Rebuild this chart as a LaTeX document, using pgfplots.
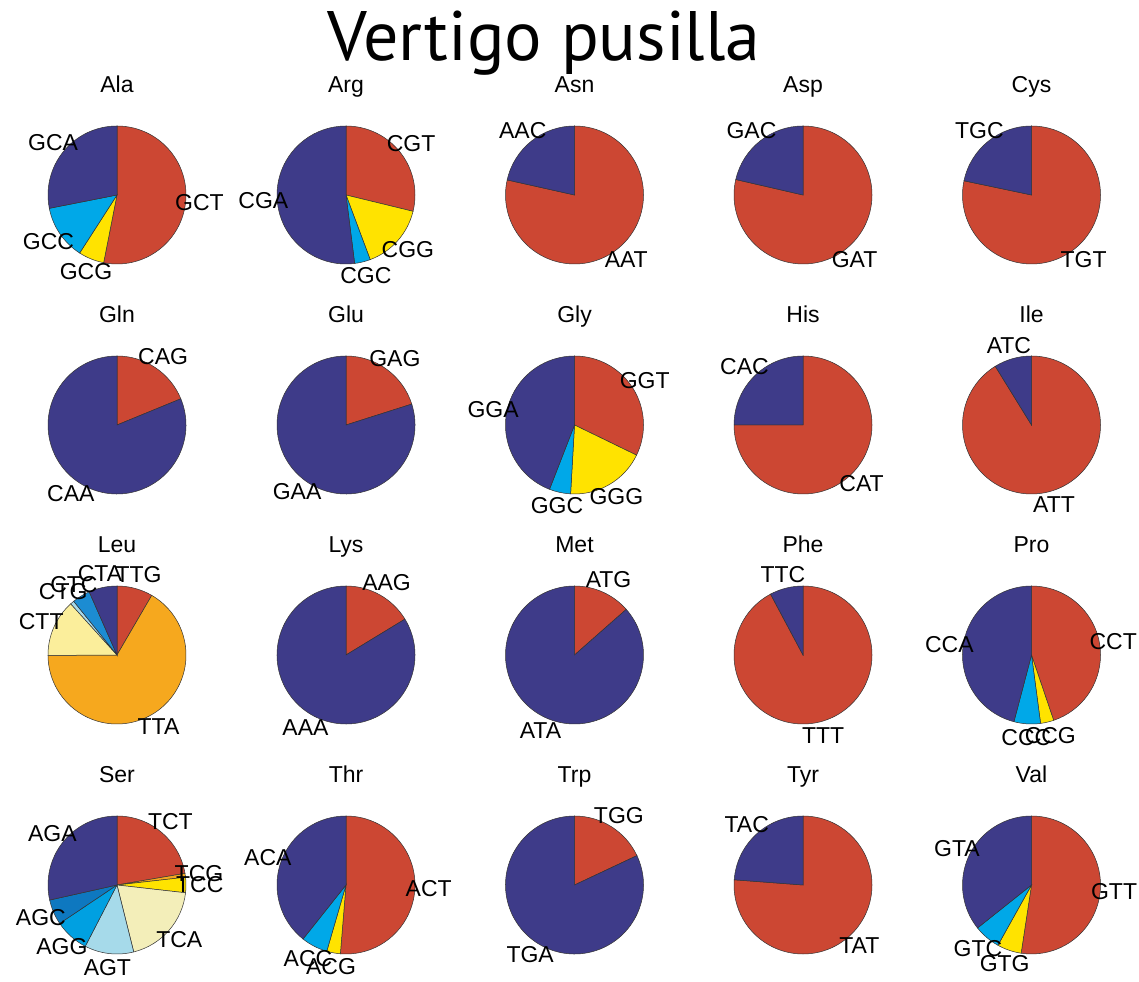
\documentclass[border=0pt]{standalone}
\usepackage{pgfplots}
\pgfplotsset{compat=1.18}
\usepackage{fontspec}
\setmainfont{Liberation Sans}
\newfontfamily\titlefont{PT Sans}
\definecolor{cRed}{RGB}{204,71,51}
\definecolor{cNavy}{RGB}{62,59,137}
\definecolor{cLBlue}{RGB}{0,168,232}
\definecolor{cYellow}{RGB}{255,227,0}
\definecolor{cOrange}{RGB}{246,168,30}
\definecolor{cPaleY}{RGB}{251,238,155}
\definecolor{cPaleYs}{RGB}{243,238,185}
\definecolor{cPaleC}{RGB}{166,218,234}
\definecolor{cLBlues}{RGB}{0,160,225}
\definecolor{cBlue}{RGB}{14,120,192}
\definecolor{cBlueL}{RGB}{28,140,210}
\pgfplotsset{pie/.style={hide axis, scale only axis, width=138bp, height=138bp,
  xmin=-1,xmax=1,ymin=-1,ymax=1, clip=false, anchor=center,
  title style={at={(0.5,1)}, anchor=base, yshift=28bp,
    font=\fontsize{23bp}{23bp}\selectfont, inner sep=0pt}}}
\tikzset{lbl/.style={font=\fontsize{23bp}{23bp}\selectfont, inner sep=0pt, anchor=center}}
\newcommand\piechart[1]{%
  \gdef\cum{0}%
  \foreach \pv/\pc/\pl in {#1}{%
    \pgfmathsetmacro\sa{90-3.6*\cum}%
    \pgfmathsetmacro\sb{90-3.6*(\cum+\pv)}%
    \edef\tmp{\noexpand\filldraw[fill=\pc,draw=black!80,line width=0.5bp] (axis cs:0,0) -- (axis cs:{cos(\sa)},{sin(\sa)}) arc[start angle=\sa,end angle=\sb,radius=69bp] -- cycle;}%
    \tmp
    \pgfmathsetmacro\nn{\cum+\pv}%
    \xdef\cum{\nn}%
  }%
  \gdef\cum{0}%
  \foreach \pv/\pc/\pl in {#1}{%
    \pgfmathsetmacro\sm{90-3.6*(\cum+\pv/2)}%
    \edef\tmp{\noexpand\node[lbl] at (axis cs:{1.2*cos(\sm)},{1.2*sin(\sm)}) {\pl};}%
    \tmp
    \pgfmathsetmacro\nn{\cum+\pv}%
    \xdef\cum{\nn}%
  }%
}
\begin{document}
\begin{tikzpicture}
\useasboundingbox (0,0) rectangle (1139bp,982bp);
\node[font=\titlefont\fontsize{70bp}{70bp}\selectfont, anchor=base, inner sep=0pt] at (544bp,921bp) {Vertigo pusilla};
% Row 1
\begin{axis}[pie, at={(117bp,787bp)}, title={Ala}]
\piechart{53.1/cRed/GCT, 6.0/cYellow/GCG, 12.8/cLBlue/GCC, 28.1/cNavy/GCA}
\end{axis}
\begin{axis}[pie, at={(346bp,787bp)}, title={Arg}]
\piechart{28.8/cRed/CGT, 15.5/cYellow/CGG, 3.7/cLBlue/CGC, 52.0/cNavy/CGA}
\end{axis}
\begin{axis}[pie, at={(574.5bp,787bp)}, title={Asn}]
\piechart{78.5/cRed/AAT, 21.5/cNavy/AAC}
\end{axis}
\begin{axis}[pie, at={(803bp,787bp)}, title={Asp}]
\piechart{78.6/cRed/GAT, 21.4/cNavy/GAC}
\end{axis}
\begin{axis}[pie, at={(1031.5bp,787bp)}, title={Cys}]
\piechart{78.3/cRed/TGT, 21.7/cNavy/TGC}
\end{axis}
% Row 2
\begin{axis}[pie, at={(117bp,557bp)}, title={Gln}]
\piechart{18.8/cRed/CAG, 81.2/cNavy/CAA}
\end{axis}
\begin{axis}[pie, at={(346bp,557bp)}, title={Glu}]
\piechart{20.1/cRed/GAG, 79.9/cNavy/GAA}
\end{axis}
\begin{axis}[pie, at={(574.5bp,557bp)}, title={Gly}]
\piechart{32.2/cRed/GGT, 18.7/cYellow/GGG, 5.0/cLBlue/GGC, 44.1/cNavy/GGA}
\end{axis}
\begin{axis}[pie, at={(803bp,557bp)}, title={His}]
\piechart{75.0/cRed/CAT, 25.0/cNavy/CAC}
\end{axis}
\begin{axis}[pie, at={(1031.5bp,557bp)}, title={Ile}]
\piechart{91.2/cRed/ATT, 8.8/cNavy/ATC}
\end{axis}
% Row 3
\begin{axis}[pie, at={(117bp,327bp)}, title={Leu}]
\piechart{8.4/cRed/TTG, 66.5/cOrange/TTA, 13.4/cPaleY/CTT, 0.9/cPaleC/CTG, 4.2/cBlueL/CTC, 6.6/cNavy/CTA}
\end{axis}
\begin{axis}[pie, at={(346bp,327bp)}, title={Lys}]
\piechart{16.3/cRed/AAG, 83.7/cNavy/AAA}
\end{axis}
\begin{axis}[pie, at={(574.5bp,327bp)}, title={Met}]
\piechart{13.5/cRed/ATG, 86.5/cNavy/ATA}
\end{axis}
\begin{axis}[pie, at={(803bp,327bp)}, title={Phe}]
\piechart{92.2/cRed/TTT, 7.8/cNavy/TTC}
\end{axis}
\begin{axis}[pie, at={(1031.5bp,327bp)}, title={Pro}]
\piechart{44.8/cRed/CCT, 3.1/cYellow/CCG, 6.2/cLBlue/CCC, 45.9/cNavy/CCA}
\end{axis}
% Row 4
\begin{axis}[pie, at={(117bp,97bp)}, title={Ser}]
\piechart{22.3/cRed/TCT, 0.9/cOrange/TCG, 3.6/cYellow/TCC, 19.3/cPaleYs/TCA, 11.5/cPaleC/AGT, 8.0/cLBlues/AGG, 5.9/cBlue/AGC, 28.5/cNavy/AGA}
\end{axis}
\begin{axis}[pie, at={(346bp,97bp)}, title={Thr}]
\piechart{51.3/cRed/ACT, 3.2/cYellow/ACG, 6.2/cLBlue/ACC, 39.3/cNavy/ACA}
\end{axis}
\begin{axis}[pie, at={(574.5bp,97bp)}, title={Trp}]
\piechart{18.0/cRed/TGG, 82.0/cNavy/TGA}
\end{axis}
\begin{axis}[pie, at={(803bp,97bp)}, title={Tyr}]
\piechart{76.2/cRed/TAT, 23.8/cNavy/TAC}
\end{axis}
\begin{axis}[pie, at={(1031.5bp,97bp)}, title={Val}]
\piechart{52.4/cRed/GTT, 5.7/cYellow/GTG, 6.2/cLBlue/GTC, 35.7/cNavy/GTA}
\end{axis}
\end{tikzpicture}
\end{document}
